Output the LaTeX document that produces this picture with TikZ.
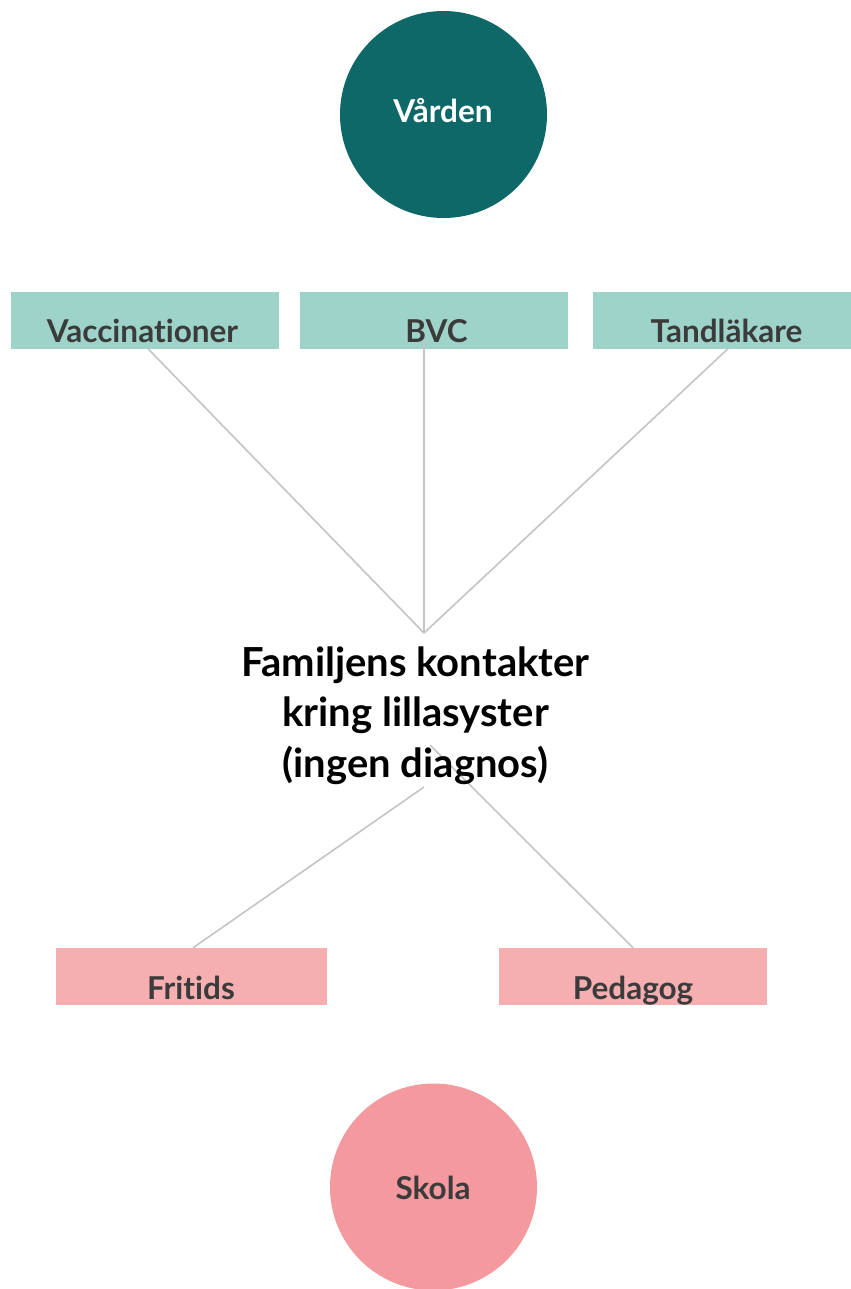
\documentclass[tikz,border=0pt]{standalone}
\usepackage{fontspec}
\setmainfont[Ligatures=NoCommon]{Lato}
\definecolor{teal1}{HTML}{0E6868}
\definecolor{mint}{HTML}{9DD3C9}
\definecolor{rosebox}{HTML}{F5AFB1}
\definecolor{rosecirc}{HTML}{F4999E}
\definecolor{txt}{HTML}{3B3B3B}
\definecolor{conn}{HTML}{C4C4C4}
\tikzset{
  circ/.style={circle, minimum size=207bp, inner sep=0pt},
  topbox/.style={rectangle, fill=mint, minimum height=57bp, inner sep=0pt},
  botbox/.style={rectangle, fill=rosebox, minimum height=57bp, inner sep=0pt},
  boxtext/.style={text=txt, font=\fontsize{31.5bp}{36bp}\selectfont\bfseries, inner sep=0pt, anchor=base},
  conline/.style={draw=conn, line width=1.6bp},
}
\begin{document}
\begin{tikzpicture}[x=1bp,y=-1bp]
\useasboundingbox (0,0) rectangle (851,1289);
% circles
\node[circ, fill=teal1] (varden) at (443.5,114.5) {};
\node[circ, fill=rosecirc] (skola) at (433.5,1187) {};
\node[boxtext, text=white] (vardenT) at (443,122) {Vården};
\node[boxtext] (skolaT) at (433,1199) {Skola};
% top boxes
\node[topbox, minimum width=268bp] (vac) at (145,320) {};
\node[topbox, minimum width=268bp] (bvc) at (434,320) {};
\node[topbox, minimum width=258bp] (tand) at (722,320) {};
\node[boxtext] (vacT) at (142.5,342) {Vaccinationer};
\node[boxtext] (bvcT) at (436.5,342) {BVC};
\node[boxtext] (tandT) at (726.5,342) {Tandläkare};
% bottom boxes
\node[botbox, minimum width=271bp] (frit) at (191.5,976.5) {};
\node[botbox, minimum width=268bp] (ped) at (633,976.5) {};
\node[boxtext] (fritT) at (191,999) {Fritids};
\node[boxtext] (pedT) at (633,999) {Pedagog};
% hub coordinates
\coordinate (hubtop) at (424,633);
\coordinate (hubL) at (424,787);
\coordinate (hubR) at (430,745);
% connectors
\draw[conline] ([xshift=3bp]vac.south) -- (hubtop);
\draw[conline] ([xshift=-10bp,yshift=8bp]bvc.south) -- (hubtop);
\draw[conline] ([xshift=6bp]tand.south) -- (hubtop);
\draw[conline] (hubL) -- ([xshift=1.5bp]frit.north);
\draw[conline] (hubR) -- (ped.north);
% title
\node[align=center, text=black, font=\fontsize{40bp}{50.5bp}\selectfont\bfseries, inner sep=0pt, anchor=base] (title) at (415.5,777) {Familjens kontakter\\kring lillasyster\\(ingen diagnos)};
\end{tikzpicture}
\end{document}
